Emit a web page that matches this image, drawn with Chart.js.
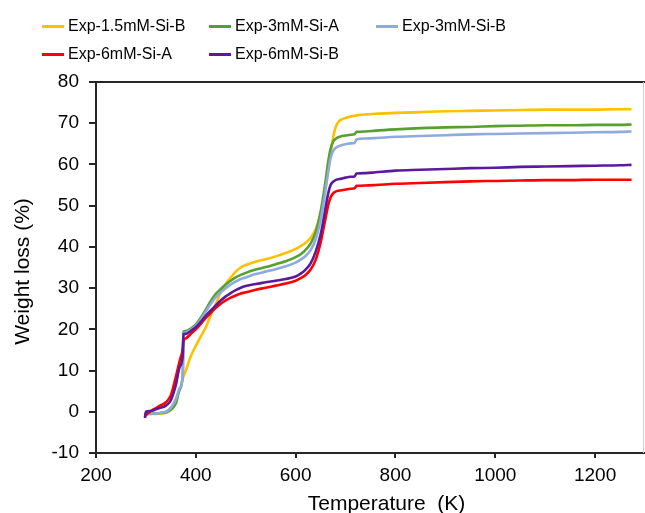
<!DOCTYPE html>
<html>
<head>
<meta charset="utf-8">
<title>TGA weight loss</title>
<script src="https://cdn.jsdelivr.net/npm/chart.js@4.4.1/dist/chart.umd.min.js"></script>
<style>
  html, body { margin: 0; padding: 0; background: #fff; }
  #wrap { position: relative; width: 645px; height: 513px; }
  #legend {
    position: absolute; left: 42px; top: 12px;
    display: grid; grid-template-columns: 167px 167px 167px; grid-auto-rows: 28px;
    font: 16px "Liberation Sans", Arial, sans-serif; color: #000;
  }
  #legend .item { display: flex; align-items: center; white-space: nowrap; }
  #legend .swatch { width: 22px; height: 3px; margin-right: 4px; }
</style>
</head>
<body>
<div id="wrap">
  <canvas id="chart" width="645" height="513"></canvas>
  <div id="legend"></div>
</div>
<script>
// Weight loss (%) vs temperature (K), shared temperature grid for all runs.
const temps = [298, 300, 310, 320, 330, 340, 350, 360, 368, 374, 375, 380, 390, 400, 410, 420, 430, 440, 450, 460,
  470, 480, 490, 500, 520, 540, 560, 580, 600, 610, 620, 630, 640, 650, 655, 660, 665, 670, 675, 680,
  685, 690, 700, 710, 718, 722, 740, 760, 800, 850, 900, 950, 1000, 1050, 1100, 1150, 1200, 1250, 1273];

const seriesNames = ['Exp-1.5mM-Si-B', 'Exp-3mM-Si-A', 'Exp-3mM-Si-B', 'Exp-6mM-Si-A', 'Exp-6mM-Si-B'];
const seriesColors = ['#ffc000', '#55a02e', '#8faadc', '#ff0000', '#5a1a9a'];

const loss15B = [-0.8, -0.5, -0.4, -0.5, -0.4, -0.3, 0.8, 3.2, 5.5, 8.0, 8.4, 10.0, 13.5, 16.0, 18.3, 20.5, 23.5, 26.2, 29.0, 31.0,
  32.6, 34.0, 35.0, 35.6, 36.4, 37.0, 37.7, 38.5, 39.5, 40.2, 41.0, 42.2, 44.2, 48.0, 51.0, 54.5, 58.5, 62.5, 66.5, 69.0,
  70.2, 70.8, 71.3, 71.6, 71.8, 71.9, 72.1, 72.3, 72.5, 72.7, 72.9, 73.0, 73.1, 73.2, 73.3, 73.3, 73.3, 73.4, 73.4];
const loss3A = [-0.8, -0.6, -0.5, -0.4, -0.3, -0.1, 0.5, 2.0, 5.5, 9.5, 19.4, 19.6, 20.2, 21.2, 22.8, 24.8, 26.9, 28.6, 29.8, 30.9,
  31.8, 32.6, 33.2, 33.7, 34.5, 35.1, 35.8, 36.5, 37.5, 38.2, 39.3, 40.8, 43.5, 48.5, 52.0, 56.0, 60.5, 63.8, 65.5, 66.2,
  66.6, 66.8, 67.0, 67.2, 67.3, 67.9, 68.0, 68.2, 68.5, 68.8, 69.0, 69.1, 69.3, 69.4, 69.5, 69.5, 69.6, 69.6, 69.7];
const loss3B = [-0.6, -0.5, -0.4, -0.4, -0.2, 0.0, 1.0, 3.0, 5.8, 9.0, 19.0, 19.3, 19.9, 20.9, 22.4, 24.3, 26.2, 27.8, 29.0, 30.0,
  30.9, 31.6, 32.2, 32.6, 33.4, 34.0, 34.6, 35.3, 36.2, 36.9, 37.8, 39.2, 41.8, 46.5, 50.0, 54.0, 58.0, 61.5, 63.3, 64.0,
  64.4, 64.6, 64.9, 65.1, 65.2, 66.1, 66.3, 66.4, 66.7, 66.9, 67.1, 67.3, 67.4, 67.5, 67.6, 67.7, 67.8, 67.9, 68.0];
const loss6A = [-1.2, -0.8, 0.2, 0.9, 1.6, 2.3, 4.0, 8.5, 12.5, 15.5, 17.0, 17.8, 18.9, 20.0, 21.3, 22.8, 24.0, 25.2, 26.2, 27.0,
  27.7, 28.2, 28.7, 29.0, 29.6, 30.1, 30.6, 31.1, 31.8, 32.4, 33.2, 34.5, 36.8, 41.0, 44.0, 47.0, 50.0, 52.0, 53.0, 53.4,
  53.6, 53.7, 53.9, 54.1, 54.2, 54.8, 54.9, 55.0, 55.3, 55.5, 55.7, 55.9, 56.0, 56.1, 56.2, 56.2, 56.3, 56.3, 56.3];
const loss6B = [-1.5, 0.0, 0.2, 0.6, 1.0, 1.5, 2.8, 6.5, 11.0, 13.8, 18.8, 18.9, 19.6, 20.5, 21.8, 23.3, 24.6, 25.8, 27.0, 28.0,
  28.8, 29.5, 30.1, 30.5, 31.0, 31.4, 31.8, 32.2, 32.8, 33.5, 34.5, 36.0, 38.8, 43.0, 46.0, 49.5, 52.8, 55.0, 55.8, 56.2,
  56.4, 56.5, 56.8, 57.0, 57.1, 57.8, 57.9, 58.1, 58.5, 58.7, 58.9, 59.1, 59.2, 59.4, 59.5, 59.6, 59.7, 59.8, 59.9];

const seriesValues = [loss15B, loss3A, loss3B, loss6A, loss6B];

const xTicks = [200, 400, 600, 800, 1000, 1200];
const yTicks = [-10, 0, 10, 20, 30, 40, 50, 60, 70, 80];

const $ = id => document.getElementById(id);
const FONT = '"Liberation Sans", Arial, sans-serif';
const AXIS = '#262626';

// Top edge + light right edge of the plot box, and the two axis titles.
const frame = {
  id: 'frame',
  afterDraw(chart) {
    const { ctx, chartArea: a } = chart;
    ctx.save();
    ctx.lineWidth = 2;
    ctx.strokeStyle = AXIS;
    ctx.beginPath(); ctx.moveTo(a.left, a.top); ctx.lineTo(a.right, a.top); ctx.stroke();
    ctx.lineWidth = 1;
    ctx.strokeStyle = '#d0d0d0';
    ctx.beginPath(); ctx.moveTo(a.right - 1.5, a.top); ctx.lineTo(a.right - 1.5, a.bottom); ctx.stroke();

    ctx.fillStyle = '#000';
    ctx.font = '21px ' + FONT;
    ctx.textAlign = 'center';
    ctx.textBaseline = 'middle';
    ctx.fillText('Temperature  (K)', (a.left + a.right) / 2 + 16, a.bottom + 51);
    ctx.translate(a.left - 73, (a.top + a.bottom) / 2 + 4);
    ctx.rotate(-Math.PI / 2);
    ctx.fillText('Weight loss (%)', 0, 0);
    ctx.restore();
  }
};

const datasets = seriesNames.map((name, i) => ({
  label: name,
  data: temps.map((t, j) => ({ x: t, y: seriesValues[i][j] })),
  borderColor: seriesColors[i],
  backgroundColor: seriesColors[i],
  borderWidth: 2.6,
  pointRadius: 0,
  cubicInterpolationMode: 'monotone',
  order: seriesNames.length - i,
}));

new Chart($('chart'), {
  type: 'line',
  data: { datasets },
  options: {
    responsive: false,
    animation: false,
    devicePixelRatio: 1,
    layout: { padding: { top: 82, right: 0, bottom: 0, left: 0 } },
    plugins: { legend: { display: false }, tooltip: { enabled: false } },
    scales: {
      x: {
        type: 'linear',
        min: 200, max: 1300,
        afterFit: s => { s.height = 60; },
        afterBuildTicks: s => { s.ticks = xTicks.map(v => ({ value: v })); },
        ticks: { color: '#000', font: { family: FONT, size: 19 }, padding: 6, maxRotation: 0, callback: v => String(v) },
        grid: { drawOnChartArea: false, drawTicks: true, tickLength: 5, color: AXIS, lineWidth: 2 },
        border: { display: true, color: AXIS, width: 2 },
      },
      y: {
        min: -10, max: 80,
        afterFit: s => { s.width = 96; },
        afterBuildTicks: s => { s.ticks = yTicks.map(v => ({ value: v })); },
        ticks: { color: '#000', font: { family: FONT, size: 19 }, padding: 10, callback: v => String(v) },
        grid: { drawOnChartArea: false, drawTicks: true, tickLength: 7, color: AXIS, lineWidth: 2 },
        border: { display: true, color: AXIS, width: 2 },
      },
    },
  },
  plugins: [frame],
});

// Legend: three fixed columns, filled row by row.
$('legend').innerHTML = seriesNames
  .map((name, i) => `<div class="item"><span class="swatch" style="background:${seriesColors[i]}"></span>${name}</div>`)
  .join('');
</script>
</body>
</html>
